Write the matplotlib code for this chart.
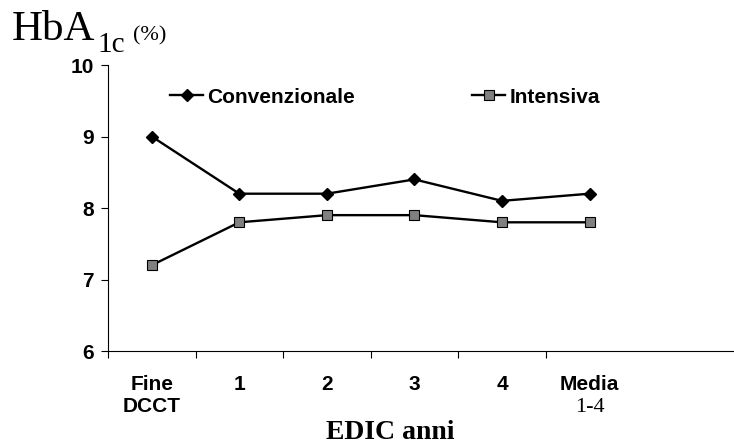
import matplotlib
matplotlib.use("Agg")
import matplotlib.pyplot as plt

categories = ["Fine\nDCCT", "1", "2", "3", "4", "Media"]
convenzionale = [9.0, 8.2, 8.2, 8.4, 8.1, 8.2]
intensiva = [7.2, 7.8, 7.9, 7.9, 7.8, 7.8]
y_ticks = [6, 7, 8, 9, 10]

W, H = 734, 448
fig = plt.figure(figsize=(W / 100, H / 100), dpi=100)
ax = fig.add_axes([108 / W, 1 - 351 / H, 1 - 108 / W, (351 - 65) / H])

sans = {"family": "Liberation Sans", "weight": "bold", "size": 15}

x = list(range(len(categories)))
ax.plot(x, convenzionale, color="black", lw=1.7, marker="D", ms=6.5,
        mfc="black", mec="black", label="Convenzionale", clip_on=False)
ax.plot(x, intensiva, color="black", lw=1.7, marker="s", ms=6.5,
        mfc="#808080", mec="black", mew=0.8, label="Intensiva", clip_on=False)

ax.set_xlim(-0.5, 6.65)
ax.set_ylim(6, 10)
ax.set_yticks(y_ticks)
ax.set_yticklabels([str(v) for v in y_ticks], fontdict=sans)
ax.tick_params(axis="y", direction="out", length=5, width=0.8, pad=5)

# category boundaries as tick marks, labels drawn separately
ax.set_xticks([i - 0.5 for i in range(len(categories))])
ax.set_xticklabels([])
ax.tick_params(axis="x", direction="out", length=5, width=0.8)

for s in ["top", "right"]:
    ax.spines[s].set_visible(False)
for s in ["left", "bottom"]:
    ax.spines[s].set_linewidth(0.8)

trans = ax.get_xaxis_transform()
for i, lab in enumerate(categories):
    ax.text(i, -0.085, lab, transform=trans, ha="center", va="top",
            fontdict=sans, linespacing=1.15)
ax.text(5, -0.196, "1-4", transform=trans, ha="center", va="center",
        fontfamily="Liberation Serif", fontsize=16)

fig.text(390 / W, 1 - 432 / H, "EDIC anni", ha="center", va="center",
         fontfamily="Liberation Serif", fontweight="bold", fontsize=20)

# y-axis title with subscript
fig.text(12 / W, 1 - 40 / H, "HbA", ha="left", va="baseline",
         fontfamily="Liberation Serif", fontsize=31)
fig.text(97 / W, 1 - 52 / H, "1c", ha="left", va="baseline",
         fontfamily="Liberation Serif", fontsize=21)
fig.text(133 / W, 1 - 40 / H, "(%)", ha="left", va="baseline",
         fontfamily="Liberation Serif", fontsize=16)

leg = ax.legend(loc="center left", bbox_to_anchor=(0.099, 0.888), ncol=2,
                frameon=False, handlelength=1.6, handletextpad=0.2,
                columnspacing=5.6, borderaxespad=0, borderpad=0,
                prop=sans)

fig.savefig("out.png", dpi=100)
